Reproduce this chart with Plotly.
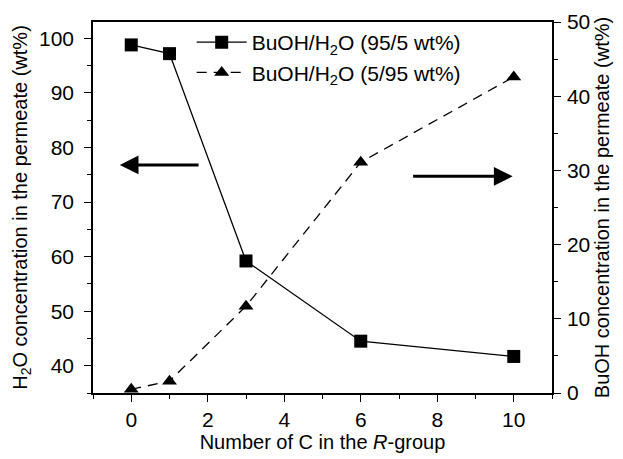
import plotly.graph_objects as go

carbons = [0, 1, 3, 6, 10]
h2o_conc = [98.8, 97.2, 59.2, 44.5, 41.7]      # BuOH/H2O (95/5 wt%) -> left axis
buoh_conc = [0.5, 1.6, 11.7, 31.1, 42.6]       # BuOH/H2O (5/95 wt%) -> right axis

name1 = "BuOH/H<sub>2</sub>O (95/5 wt%)"
name2 = "BuOH/H<sub>2</sub>O (5/95 wt%)"

FONT = "Liberation Sans, Arial, sans-serif"
FS = 21

fig = go.Figure()
fig.add_trace(go.Scatter(
    x=carbons, y=h2o_conc, name=name1, mode="lines+markers",
    line=dict(color="black", width=1.3),
    marker=dict(symbol="square", size=13, color="black"),
    legendgroup="a", yaxis="y"))
fig.add_trace(go.Scatter(
    x=carbons, y=buoh_conc, name=name2, mode="lines+markers",
    line=dict(color="black", width=1.3, dash="10px,7px"),
    marker=dict(symbol="triangle-up", size=13, color="black"),
    legendgroup="b", yaxis="y2"))

axis_common = dict(showline=True, linecolor="black", linewidth=1.5,
                   ticks="outside", ticklen=7, tickwidth=1.3, tickcolor="black",
                   showgrid=False, zeroline=False, automargin=False,
                   tickfont=dict(size=FS, color="black", family=FONT))

# page body has an 8px default margin, so the figure is offset by 8px
fig.update_layout(
    width=615, height=451,
    margin=dict(l=85, r=71, t=14, b=66),
    paper_bgcolor="white", plot_bgcolor="white",
    font=dict(family=FONT, color="black", size=FS),
    xaxis=dict(range=[-1, 11], tickvals=[0, 2, 4, 6, 8, 10], mirror=True,
               minor=dict(dtick=1, tick0=0, ticks="outside", ticklen=4, tickcolor="black"),
               title=dict(text="Number of C in the <i>R</i>-group", standoff=4,
                          font=dict(size=20)),
               **axis_common),
    yaxis=dict(range=[35, 103], tickvals=[40, 50, 60, 70, 80, 90, 100],
               ticklabelstandoff=6,
               minor=dict(dtick=5, tick0=0, ticks="outside", ticklen=4, tickcolor="black"),
               title=dict(text="H<sub>2</sub>O concentration in the permeate (wt%)",
                          standoff=6, font=dict(size=20)),
               **axis_common),
    yaxis2=dict(range=[0, 50], tickvals=[0, 10, 20, 30, 40, 50], overlaying="y", side="right",
                ticklabelstandoff=2,
                minor=dict(dtick=5, tick0=0, ticks="outside", ticklen=4, tickcolor="black"),
                title=dict(text="BuOH concentration in the permeate (wt%)",
                           standoff=6, font=dict(size=20)),
                **axis_common),
    legend=dict(x=0.215, y=1.0, xanchor="left", yanchor="top",
                bgcolor="rgba(0,0,0,0)", itemwidth=50, tracegroupgap=0,
                traceorder="grouped", font=dict(size=FS)),
    showlegend=True,
)

# arrows indicating which axis each series belongs to
fig.add_annotation(x=-0.3, y=76.8, ax=1.8, ay=76.8, xref="x", yref="y", axref="x", ayref="y",
                   showarrow=True, arrowhead=2, arrowsize=1.25, arrowwidth=3, arrowcolor="black", text="")
fig.add_annotation(x=9.97, y=29.2, ax=7.33, ay=29.2, xref="x", yref="y2", axref="x", ayref="y2",
                   showarrow=True, arrowhead=2, arrowsize=1.25, arrowwidth=3, arrowcolor="black", text="")

fig.write_html("out.html")
